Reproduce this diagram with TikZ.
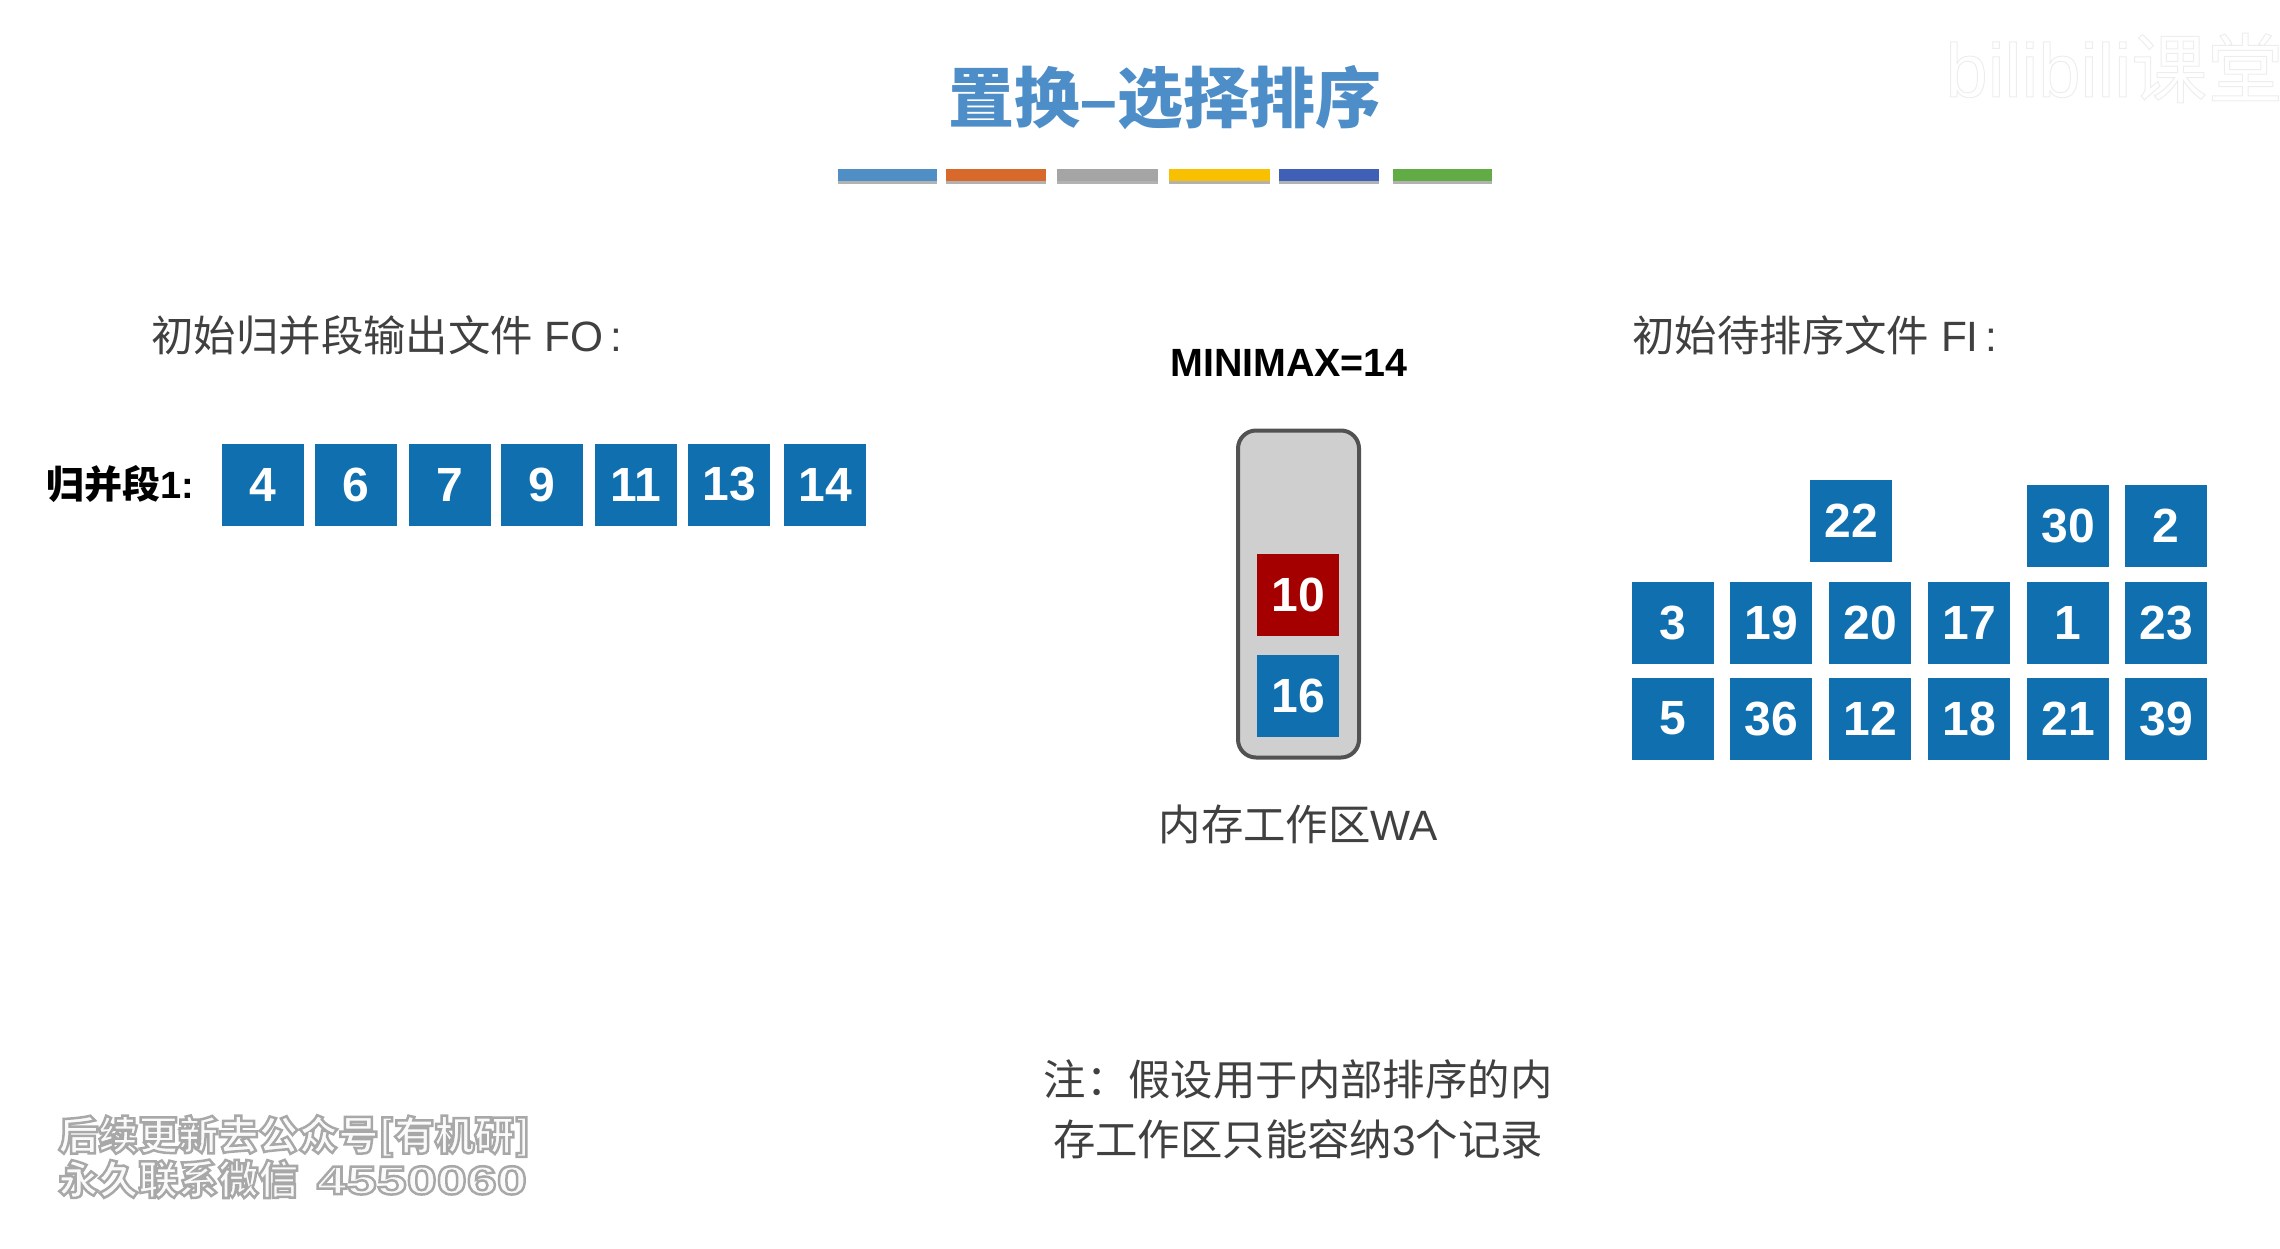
\documentclass[tikz,border=0pt]{standalone}
\usepackage{fontspec}
\setmainfont{Liberation Sans}
\newfontfamily\cjk{Noto Sans CJK SC}
\newfontfamily\wmd{Liberation Sans}[FakeStretch=1.35]
\definecolor{blk}{HTML}{0F6FAF}
\definecolor{redblk}{HTML}{A50000}
\definecolor{ttl}{HTML}{4E8EC8}
\definecolor{lbl}{HTML}{404040}
\newcommand{\outl}[1]{\special{pdf:code 2 Tr 1.25 w 0.66 0.66 0.66 RG 0.98 0.98 0.98 rg}#1\special{pdf:code 0 Tr 0.4 w 0 0 0 RG 0 0 0 rg}}
\newcommand{\faint}[1]{\special{pdf:code 1 Tr 0.5 w 0.93 0.93 0.93 RG}#1\special{pdf:code 0 Tr 0.4 w 0 0 0 RG}}
\tikzset{
  x=0.5pt,y=-0.5pt,
  cell/.style={rectangle,fill=blk,text=white,minimum width=41pt,minimum height=41pt,inner sep=0pt,font=\fontsize{24}{24}\selectfont\bfseries},
  hotcell/.style={cell,fill=redblk},
  label/.style={inner sep=0pt,text=lbl,font=\fontsize{21.2}{25}\selectfont},
  barshadow/.style={fill=black!30},
}
\begin{document}
\begin{tikzpicture}
\useasboundingbox (0,0) rectangle (2280,1248);
% title
\node[inner sep=0pt,text=ttl] (title) at (1165,98) {\fontsize{33}{33}\selectfont\bfseries\cjk 置换\fontspec{Liberation Sans Bold}–\cjk\bfseries 选择排序};
% colour bars
\foreach \a/\b/\c in {838/937/4F8FC6,946/1046/D9682B,1057/1158/A5A5A5,1169/1270/F8C000,1279/1379/4060B8,1393/1492/62AC45}{
  \definecolor{barcol}{HTML}{\c}
  \fill[barshadow] (\a,177) rectangle (\b,184);
  \fill[barcol] (\a,169) rectangle (\b,181);
}
% labels
\node[label,anchor=west] (fotitle) at (151,335) {\cjk 初始归并段输出文件\rm{} FO\,:};
\node[label,anchor=west] (fititle) at (1632,335) {\cjk 初始待排序文件\rm{} FI\,:};
\node[inner sep=0pt,anchor=west,font=\fontsize{19}{19}\selectfont\bfseries] (seg) at (46,484) {\cjk 归并段\rm\bfseries 1:};
\node[inner sep=0pt,font=\fontsize{19.7}{19.7}\selectfont\bfseries] (minimax) at (1289,363) {MINIMAX=14};
% FO
\foreach \n/\v/\p in {a/4/263,b/6/356,c/7/450,d/9/542,e/11/636,f/13/729,g/14/825}
  \node[cell] (fo\n) at (\p,484.5) {\v};
% work area
\node[rectangle,rounded corners=9pt,draw=black!68,line width=2pt,fill=black!19,minimum width=60.5pt,minimum height=163.5pt,inner sep=0pt] (wa) at (1298.5,594) {};
\node[hotcell] (wten) at (1298,595) {10};
\node[cell] (wsix) at (1298,695.5) {16};
\node[label] (walabel) at (1298,824) {\cjk 内存工作区\rm WA};
% FI
\foreach \n/\v/\p in {a/3/1673,b/19/1771,c/20/1870,d/17/1969,e/1/2068,f/23/2166}
  \node[cell] (fim\n) at (\p,623) {\v};
\foreach \n/\v/\p in {a/5/1673,b/36/1771,c/12/1870,d/18/1969,e/21/2068,f/39/2166}
  \node[cell] (fib\n) at (\p,718.5) {\v};
\node[cell] (fit1) at (1851,520.5) {22};
\node[cell] (fit2) at (2068,526) {30};
\node[cell] (fit3) at (2166,526) {2};
% note
\node[label,align=center,font=\fontsize{21.2}{30}\selectfont] (note) at (1298,1109) {\cjk 注：假设用于内部排序的内\\\cjk 存工作区只能容纳\rm 3\cjk 个记录};
% watermarks
\node[inner sep=0pt,anchor=west,font=\fontsize{20}{20}\selectfont] (wm1) at (58,1136) {\outl{\cjk\bfseries 后续更新去公众号[有机研]}};
\node[inner sep=0pt,anchor=west,font=\fontsize{20}{20}\selectfont] (wm2) at (58,1179) {\outl{\cjk\bfseries 永久联系微信\ \ \wmd\bfseries 4550060}};
\node[inner sep=0pt,anchor=west,font=\fontsize{38}{38}\selectfont] (wm3) at (1945,68) {\faint{bilibili\cjk 课堂}};
\end{tikzpicture}
\end{document}
